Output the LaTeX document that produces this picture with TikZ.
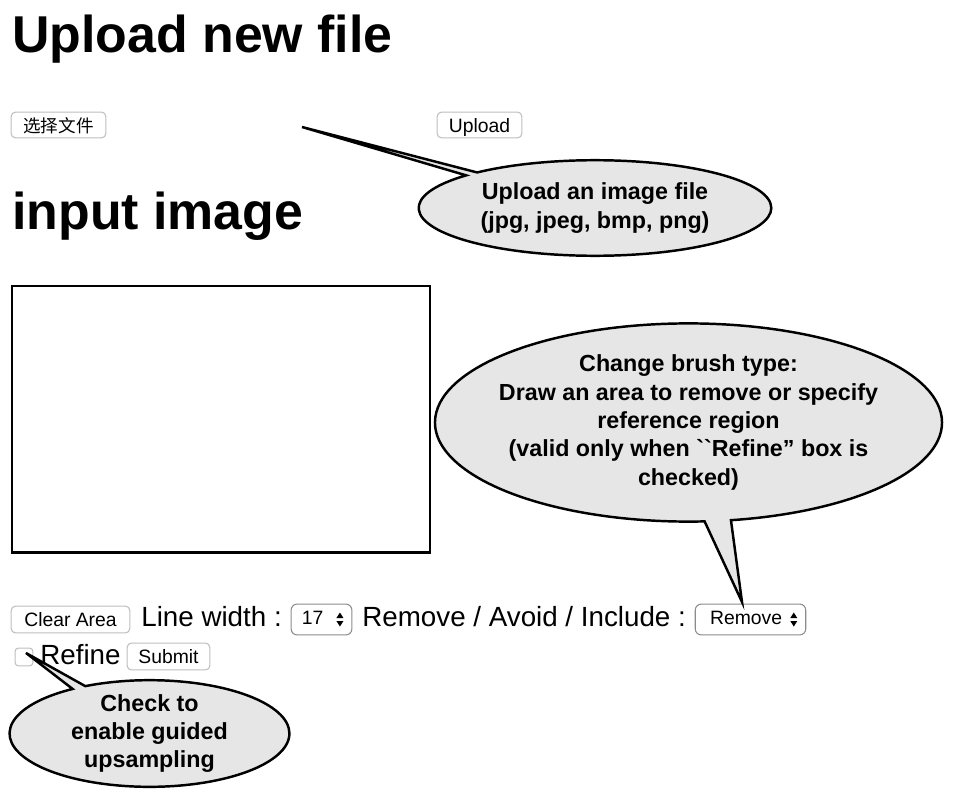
\documentclass[tikz,border=0pt]{standalone}
\usepackage{fontspec}
\setmainfont{Liberation Sans}
\newfontfamily\cjk{Noto Sans CJK SC}
\usetikzlibrary{shapes.callouts, calc}
\definecolor{bubblegray}{HTML}{E6E6E6}
\definecolor{btnedge}{HTML}{BDBDBD}

\begin{document}
\begin{tikzpicture}[x=0.02cm, y=-0.02cm,        heading/.style={anchor=base west, inner sep=0pt, font=\fontsize{29.5}{34}\selectfont\bfseries},        uitext/.style={anchor=base west, inner sep=0pt, font=\fontsize{15.8}{19}\selectfont},        button/.style={rectangle, rounded corners=2.5pt, draw=btnedge, fill=white, line width=0.6pt, inner sep=0pt, text height=8.5pt, text depth=0.5pt, font=\fontsize{11}{13}\selectfont},        dropdown/.style={button, rounded corners=3.5pt, draw=black!45, text height=7pt, text depth=0.8pt},        bubble/.style={ellipse callout, draw=black, fill=bubblegray, line width=1.4pt, inner xsep=-8pt, inner ysep=-3pt, align=center, callout pointer arc=6, font=\fontsize{13.25}{16.2}\selectfont\bfseries}    ]
        \useasboundingbox (0,0) rectangle (960,791);

        \node (upTitle) [heading] at (12,52) {Upload new file};
        \node (chooseBtn) [button, minimum width=53.9pt, minimum height=14.7pt] at (58.5,125) {\cjk\fontsize{10}{12}\selectfont 选择文件};
        \node (uploadBtn) [button, minimum width=48.2pt, minimum height=14.7pt] at (479.5,125) {Upload};
        \node (inTitle) [heading] at (12,229) {input image};
        \node (canvas) [draw=black, line width=1.2pt, minimum width=238.1pt, minimum height=151.9pt, inner sep=0pt] at (221,419) {};

        \node (clearBtn) [button, minimum width=67.5pt, minimum height=15.3pt] at (70.5,619.5) {Clear Area};
        \node (widthLbl) [uitext] at (141,626) {Line width :};
        \node (widthSel) [dropdown, minimum width=34.6pt, minimum height=17.6pt] at (321.5,619.5) {17\kern10pt};
        \node (modeLbl) [uitext] at (362,626) {Remove / Avoid / Include :};
        \node (modeSel) [dropdown, minimum width=62.9pt, minimum height=17.6pt] at (750.5,619.5) {Remove\kern5pt};
        \foreach \sel in {widthSel, modeSel} {
            \fill ($(\sel.east)+(-16,-1.5)$) -- ++(7,0) -- ++(-3.5,-5.5) -- cycle;
            \fill ($(\sel.east)+(-16,1.5)$) -- ++(7,0) -- ++(-3.5,5.5) -- cycle;
        }
        \node (refineBox) [button, rounded corners=2pt, minimum size=10.2pt] at (24,657) {};
        \node (refineLbl) [uitext] at (40,664) {Refine};
        \node (submitBtn) [button, minimum width=47.1pt, minimum height=15.3pt] at (168.5,656.5) {Submit};

        \coordinate (uploadTip) at (302,127);
        \coordinate (brushTip) at (742,602);
        \coordinate (refineTip) at (26,653);

        \node (uploadNote) [bubble, callout pointer arc=5, minimum width=200.7pt, minimum height=54.4pt, callout absolute pointer={(uploadTip)}] at (595,208) {Upload an image file\\(jpg, jpeg, bmp, png)};
        \node (brushNote) [bubble, minimum width=288.6pt, minimum height=112.8pt, callout absolute pointer={(brushTip)}] at (688.5,422.5) {Change brush type:\\Draw an area to remove or specify\\reference region\\(valid only when \textasciigrave\textasciigrave Refine” box is\\checked)};
        \node (refineNote) [bubble, minimum width=159.3pt, minimum height=60.7pt, callout absolute pointer={(refineTip)}] at (149.5,733.5) {Check to\\enable guided\\upsampling};
    \end{tikzpicture}
\end{document}
